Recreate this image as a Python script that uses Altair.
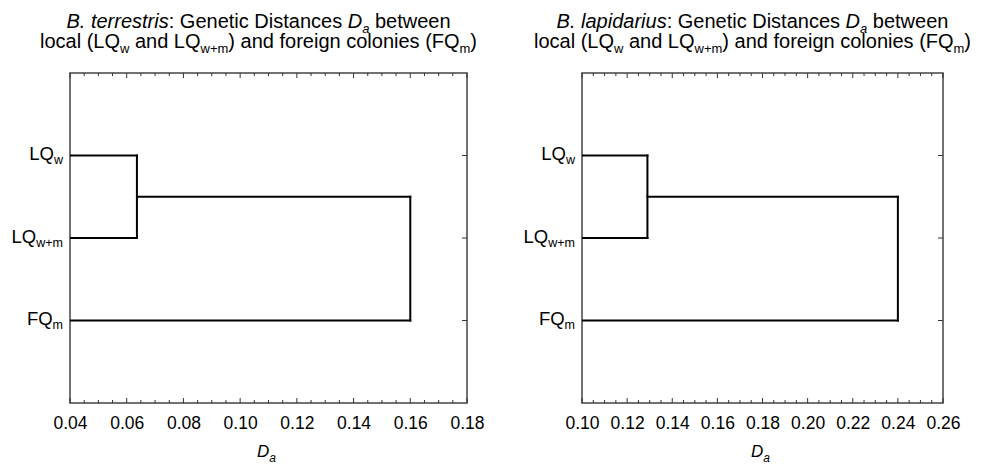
import altair as alt
import numpy as np
import pandas as pd

FONT = "Liberation Sans"

# ---------------- data ----------------
leaf_main = ["LQ", "LQ", "FQ"]
leaf_sub = ["w", "w+m", "m"]
leaf_pos = [1, 2, 3]

species = ["B. terrestris", "B. lapidarius"]
merge_lq = [0.0636, 0.129]   # join of LQw and LQw+m
merge_all = [0.160, 0.240]   # join of (LQw, LQw+m) with FQm
x_domains = [[0.04, 0.18], [0.10, 0.26]]
x_ticks = [[0.04, 0.06, 0.08, 0.10, 0.12, 0.14, 0.16, 0.18],
           [0.10, 0.12, 0.14, 0.16, 0.18, 0.20, 0.22, 0.24, 0.26]]
minor_step = 0.005

# ---------------- layout ----------------
panel_widths = [397, 361]
H = 330
T_SIZE = 20
T_SUB = 13
TICK_SIZE = 17.5
LAB_SIZE = 18.5
LAB_SUB = 12.5

# Arial / Liberation Sans advance widths (per 1000 em)
AW = {" ": 278, ".": 278, ":": 278, "(": 333, ")": 333, "+": 584, "-": 333,
      "A": 667, "B": 667, "C": 722, "D": 722, "E": 667, "F": 611, "G": 778,
      "H": 722, "I": 278, "L": 556, "M": 833, "N": 722, "O": 778, "P": 667,
      "Q": 778, "R": 722, "S": 667, "T": 611,
      "a": 556, "b": 556, "c": 500, "d": 556, "e": 556, "f": 278, "g": 556,
      "h": 556, "i": 222, "j": 222, "k": 500, "l": 222, "m": 833, "n": 556,
      "o": 556, "p": 556, "q": 556, "r": 333, "s": 500, "t": 278, "u": 556,
      "v": 500, "w": 722, "x": 500, "y": 500, "z": 500}


def tw(s, size):
    return sum(AW.get(c, 556) for c in s) * size / 1000.0


dummy = pd.DataFrame({"k": [0]})


def piece(txt, x, y, size, italic=False, align="left"):
    return alt.Chart(dummy).mark_text(
        text=txt, font=FONT, fontSize=size,
        fontStyle="italic" if italic else "normal",
        align=align, baseline="alphabetic", color="black",
    ).encode(x=alt.value(x), y=alt.value(y))


def rich_line(parts, cx, y):
    # parts: (text, italic, is_sub)
    total = sum(tw(t, T_SUB if s else T_SIZE) for t, _, s in parts)
    x = cx - total / 2
    out = []
    for t, it, s in parts:
        size = T_SUB if s else T_SIZE
        core = t.strip(" ")
        lead = len(t) - len(t.lstrip(" "))
        out.append(piece(core, x + tw(" " * lead, size), y + (5 if s else 0), size, it))
        x += tw(t, size)
    return out


def panel(i):
    W = panel_widths[i]
    m1, m2 = merge_lq[i], merge_all[i]
    p1, p2, p3 = leaf_pos
    pj = (p1 + p2) / 2
    segs = pd.DataFrame({
        "x": [0, 0, m1, m1, 0, m2],
        "x2": [m1, m1, m1, m2, m2, m2],
        "y": [p1, p2, p1, pj, p3, pj],
        "y2": [p1, p2, p2, pj, p3, p3],
    })
    xs = alt.Scale(domain=x_domains[i], nice=False, zero=False)
    ys = alt.Scale(domain=[0, 4], reverse=True)
    xax = alt.Axis(values=x_ticks[i], format=".2f", tickSize=0, labelPadding=11,
                   domain=False, grid=False, title=None, labelFont=FONT,
                   labelFontSize=TICK_SIZE, labelColor="black", labelFlush=False)

    def X(f="x"):
        return alt.X(f"{f}:Q", scale=xs, axis=xax)

    def Y(f="y"):
        return alt.Y(f"{f}:Q", scale=ys, axis=None)

    lo, hi = x_domains[i]
    allt = np.round(np.arange(lo, hi + 1e-9, minor_step), 4)
    majors = pd.DataFrame({"x": x_ticks[i]})
    minors = pd.DataFrame({"x": [v for v in allt if not np.any(np.isclose(v, x_ticks[i]))]})

    layers = []
    layers.append(alt.Chart(segs).mark_rule(clip=True, strokeWidth=2, color="black",
                                            strokeCap="square").encode(
        x=X(), x2="x2:Q", y=Y(), y2="y2:Q"))
    tick_col = "#333"
    for df, L in ((majors, 5), (minors, 3)):
        layers.append(alt.Chart(df).mark_rule(color=tick_col, strokeWidth=1).encode(
            x=X(), y=alt.value(H), y2=alt.value(H - L)))
        layers.append(alt.Chart(df).mark_rule(color=tick_col, strokeWidth=1).encode(
            x=X(), y=alt.value(0), y2=alt.value(L)))
    leaves = pd.DataFrame({"y": leaf_pos, "main": leaf_main, "sub": leaf_sub})
    layers.append(alt.Chart(leaves).mark_rule(color=tick_col, strokeWidth=1).encode(
        y=Y(), x=alt.value(W - 5), x2=alt.value(W)))

    gap = 7
    for k in range(len(leaf_pos)):
        row = leaves.iloc[[k]]
        subw = tw(leaf_sub[k], LAB_SUB)
        layers.append(alt.Chart(row).mark_text(
            font=FONT, fontSize=LAB_SIZE, align="right", baseline="alphabetic",
            dy=4.5, color="black").encode(
            y=Y(), x=alt.value(-gap - subw), text="main:N"))
        layers.append(alt.Chart(row).mark_text(
            font=FONT, fontSize=LAB_SUB, align="right", baseline="alphabetic",
            dy=8.5, color="black").encode(
            y=Y(), x=alt.value(-gap), text="sub:N"))

    cx = W / 2 - 10
    line1 = [(species[i], True, False), (": Genetic Distances ", False, False),
             ("D", True, False), ("a", True, True), (" between", False, False)]
    line2 = [("local (LQ", False, False), ("w", False, True), (" and LQ", False, False),
             ("w+m", False, True), (") and foreign colonies (FQ", False, False),
             ("m", False, True), (")", False, False)]
    layers += rich_line(line1, cx, -45)
    layers += rich_line(line2, cx, -25)

    # x-axis title D_a
    dw = tw("D", 17) + tw("a", 12)
    ax0 = W / 2 - 2 - dw / 2
    layers.append(piece("D", ax0, H + 54, 17, True))
    layers.append(piece("a", ax0 + tw("D", 17), H + 59, 12, True))

    return alt.layer(*layers).properties(width=W, height=H)


chart = alt.hconcat(panel(0), panel(1), spacing=115, bounds="flush").properties(
    padding={"left": 2, "top": 3, "right": 0, "bottom": 0}
).configure_view(stroke="#444", strokeWidth=1.5)

chart.save("out.html", embed_options={"renderer": "svg", "actions": False})
